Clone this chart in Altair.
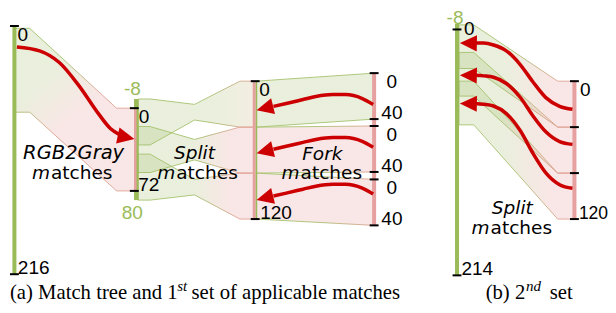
import math
import altair as alt
import pandas as pd

# ===================== values =====================
rgb_axis = [0, 216]                 # RGB2Gray match axis
split_axis = [-8, 80]               # Split axis (green extent)
split_hit = [0, 72]                 # matched part of the Split axis
fork_axis = [0, 120]                # Fork target axis
fork_segs = [[0, 40], [0, 40], [0, 40]]
b_left_axis = [-5, 214]             # panel (b) left axis
b_right_axis = [0, 120]             # panel (b) right axis
b_right_ticks = [0, 40, 80, 120]

rgb_band_src = [2, 75]
rgb_band_dst = [0, 72]
split_src = [[-8, 32], [16, 56], [40, 80]]
split_mid = [[-3.3, 10.3], [27.2, 45.0], [62.0, 75.5]]
split_dst = [[0, 40], [40, 80], [80, 120]]
fork_src = [[0, 40], [40, 80], [80, 120]]
fork_dst = [[0, 40], [0, 40], [0, 40]]
b_src = [[-4, 34], [20, 58], [45, 83]]
b_dst = [[0, 40], [40, 80], [80, 120]]

# arrows
arrow_rgb_x = [17, 40, 60, 80, 100, 112, 121]
arrow_rgb_y = [18.2, 21.6, 31.8, 52.1, 76.7, 89.4, 94.5]
fork_arrow_x = [378, 367, 350, 337, 320, 307, 290, 277]
fork_arrow_y = [[68.2, 63.1, 59.7, 59.7, 61.4, 64.0, 67.4, 69.9],
                [105.5, 100.4, 97.0, 97.0, 98.7, 101.3, 104.7, 107.2],
                [146.2, 141.1, 137.7, 137.7, 139.4, 142.0, 145.4, 147.9]]
b_arrow_x = [580, 567, 553, 540, 527, 513, 500, 490, 481]
b_arrow_y = [[72.5, 69.9, 62.3, 48.7, 33.5, 21.6, 16.5, 14.8, 14.8],
             [103.0, 100.6, 92.1, 78.3, 62.0, 50.0, 44.6, 43.4, 42.8],
             [141.1, 138.1, 127.8, 110.8, 90.9, 76.2, 69.6, 68.1, 67.4]]
head_x = [136, 260, 260, 260, 466, 466, 466]
head_y = [98.3, 73.3, 110.6, 151.3, 14.8, 42.8, 67.4]
head_angle = [12, 166, 166, 166, 181, 181, 181]

word_labels = ["RGB2Gray", "Split", "Fork", "Split"]
caption_a = ["(a) Match tree and 1", "st", "set of applicable matches"]
caption_b = ["(b) 2", "nd", "set"]

# ===================== layout / style =====================
K = 1.18
Y0 = 26.5
W, H = 600, 297
XD = [8, 616]
YD = [(8 - Y0) / K, (313 - Y0) / K]

X_RGB, X_SPLIT, X_FT, X_FS, X_BL, X_BR = 14.5, 138, 257.5, 379, 463, 582
OFF_RGB, OFF_SPLIT, OFF_FT, OFF_BL, OFF_BR = 0, 71.5, 48, 3, 48
OFF_FS = [41, 87, 133.5]

GREEN = "#9bbb59"
GFILL = "#9bb860"
PFILL = "#e48d8d"
PINKBAR = "#e6a0a0"
GSTROKE = "#a6c26f"
PSTROKE = "#e0a294"
RED = "#cc0000"


def ex(f="x"):
    return alt.X(f"{f}:Q", scale=alt.Scale(domain=XD, nice=False, zero=False), axis=None)


def ey(f="y"):
    return alt.Y(f"{f}:Q", scale=alt.Scale(domain=YD, nice=False, zero=False, reverse=True), axis=None)


def grad(stops, vec):
    x1, y1, x2, y2 = vec
    return alt.Gradient(gradient="linear",
                        stops=[alt.GradientStop(color=c, offset=o) for o, c in stops],
                        x1=x1, y1=y1, x2=x2, y2=y2)


def band(xs, tops, bots, fstops, sstops, vec=(0, 0, 1, 0)):
    df = pd.DataFrame({"x": xs, "y": tops, "y2": bots})
    return alt.Chart(df).mark_area(
        fill=grad(fstops, vec), stroke=grad(sstops, vec), fillOpacity=0.22,
        strokeWidth=1, strokeOpacity=0.9, orient="vertical", interpolate="linear"
    ).encode(x=ex(), y=ey(), y2=alt.Y2("y2:Q"))


layers = []

# ---- RGB2Gray ribbon ----
s, d = rgb_band_src, rgb_band_dst
layers.append(band([X_RGB, 30, 118, X_SPLIT - 0.5],
                   [OFF_RGB + s[0]] * 2 + [OFF_SPLIT + d[0]] * 2,
                   [OFF_RGB + s[1]] * 2 + [OFF_SPLIT + d[1]] * 2,
                   [(0, GFILL), (1, PFILL)], [(0, GSTROKE), (1, PSTROKE)],
                   (0.3, 0.25, 0.5, 0.55)))

# ---- Split ribbons ----
split_fill = [[(0, GFILL), (0.6, GFILL), (1, "#c9b27a")],
              [(0, GFILL), (0.45, GFILL), (0.8, PFILL), (1, PFILL)],
              [(0, GFILL), (0.45, GFILL), (0.8, PFILL), (1, PFILL)]]
split_stroke = [[(0, GSTROKE), (0.6, GSTROKE), (1, PSTROKE)],
                [(0, GSTROKE), (0.5, GSTROKE), (0.85, PSTROKE), (1, PSTROKE)],
                [(0, GSTROKE), (0.5, GSTROKE), (0.85, PSTROKE), (1, PSTROKE)]]
for i in range(3):
    src, mid, dst = split_src[i], split_mid[i], split_dst[i]
    layers.append(band([X_SPLIT + 2, 152, 197, 243, X_FT],
                       [OFF_SPLIT + src[0]] * 2 + [OFF_SPLIT + mid[0]] + [OFF_FT + dst[0]] * 2,
                       [OFF_SPLIT + src[1]] * 2 + [OFF_SPLIT + mid[1]] + [OFF_FT + dst[1]] * 2,
                       split_fill[i], split_stroke[i]))

# ---- Fork ribbons ----
fork_fill = [[(0, GFILL), (1, GFILL)], [(0, PFILL), (1, PFILL)], [(0, PFILL), (1, PFILL)]]
fork_stroke = [[(0, GSTROKE), (1, GSTROKE)],
               [(0, GSTROKE), (0.5, GSTROKE), (1, PSTROKE)],
               [(0, GSTROKE), (0.5, GSTROKE), (1, PSTROKE)]]
for i in range(3):
    src, dst = fork_src[i], fork_dst[i]
    layers.append(band([X_FT + 2, X_FS],
                       [OFF_FT + src[0], OFF_FS[i] + dst[0]],
                       [OFF_FT + src[1], OFF_FS[i] + dst[1]],
                       fork_fill[i], fork_stroke[i]))

# ---- panel (b) ribbons ----
for i in range(3):
    src, dst = b_src[i], b_dst[i]
    layers.append(band([X_BL + 2, 480, 565, X_BR],
                       [OFF_BL + src[0]] * 2 + [OFF_BR + dst[0]] * 2,
                       [OFF_BL + src[1]] * 2 + [OFF_BR + dst[1]] * 2,
                       [(0, GFILL), (0.35, GFILL), (0.8, PFILL), (1, PFILL)],
                       [(0, GSTROKE), (0.45, GSTROKE), (0.9, PSTROKE), (1, PSTROKE)]))

# ---- axes bars ----
bars = pd.DataFrame([
    dict(x=X_RGB, y=OFF_RGB + rgb_axis[0], y2=OFF_RGB + rgb_axis[1], w=4, c=GREEN),
    dict(x=X_SPLIT, y=OFF_SPLIT + split_axis[0], y2=OFF_SPLIT + split_axis[1], w=4.5, c=GREEN),
    dict(x=X_SPLIT - 1, y=OFF_SPLIT + split_hit[0], y2=OFF_SPLIT + split_hit[1], w=2.5, c=PINKBAR),
    dict(x=X_FT, y=OFF_FT + fork_axis[0], y2=OFF_FT + fork_axis[1], w=3, c=PINKBAR),
    dict(x=X_FT + 2.3, y=OFF_FT + fork_axis[0], y2=OFF_FT + fork_axis[1], w=1.5, c=GREEN),
    dict(x=X_FS, y=OFF_FS[0] + fork_segs[0][0], y2=OFF_FS[2] + fork_segs[2][1], w=4, c=PINKBAR),
    dict(x=X_BL, y=OFF_BL + b_left_axis[0], y2=OFF_BL + b_left_axis[1], w=4, c=GREEN),
    dict(x=X_BR, y=OFF_BR + b_right_axis[0], y2=OFF_BR + b_right_axis[1], w=4, c=PINKBAR),
])
layers.append(alt.Chart(bars).mark_rule().encode(
    x=ex(), y=ey(), y2=alt.Y2("y2:Q"),
    strokeWidth=alt.StrokeWidth("w:Q", scale=None), color=alt.Color("c:N", scale=None)))

# ---- ticks ----
tick_rows = []
def add_ticks(xc, off, vals):
    for v in vals:
        tick_rows.append(dict(x=xc - 4.5, x2=xc + 4.5, y=off + v))
add_ticks(X_RGB, OFF_RGB, rgb_axis)
add_ticks(X_SPLIT - 2, OFF_SPLIT, split_hit)
add_ticks(X_FT + 1, OFF_FT, fork_axis)
for i in range(3):
    add_ticks(X_FS, OFF_FS[i], fork_segs[i])
add_ticks(X_BL, OFF_BL, [0, b_left_axis[1]])
add_ticks(X_BR, OFF_BR, b_right_ticks)
layers.append(alt.Chart(pd.DataFrame(tick_rows)).mark_rule(color="black", strokeWidth=2).encode(
    x=ex(), x2=alt.X2("x2:Q"), y=ey()))

# ---- arrows ----
arr_rows = []
for xv, yv in zip(arrow_rgb_x, arrow_rgb_y):
    arr_rows.append(dict(id="a", x=xv, y=yv))
for i in range(3):
    for xv, yv in zip(fork_arrow_x, fork_arrow_y[i]):
        arr_rows.append(dict(id=f"f{i}", x=xv, y=yv))
    for xv, yv in zip(b_arrow_x, b_arrow_y[i]):
        arr_rows.append(dict(id=f"b{i}", x=xv, y=yv))
layers.append(alt.Chart(pd.DataFrame(arr_rows)).mark_line(
    color=RED, strokeWidth=3.5, interpolate="monotone").encode(
    x=ex(), y=ey(), detail="id:N"))

HEAD_LEN = 17
heads = pd.DataFrame({
    "x": [hx - HEAD_LEN / 2 * math.cos(math.radians(a)) for hx, a in zip(head_x, head_angle)],
    "y": [hy - HEAD_LEN / 2 * math.sin(math.radians(a)) / K for hy, a in zip(head_y, head_angle)],
    "a": head_angle,
})
layers.append(alt.Chart(heads).mark_point(
    shape="M1,0L-1,-0.95L-1,0.95Z", filled=True, size=HEAD_LEN ** 2, color=RED,
    opacity=1, strokeWidth=0).encode(x=ex(), y=ey(), angle=alt.Angle("a:Q", scale=None)))


# ---- texts ----
def text_layer(rows, align, baseline, font="Liberation Sans", size=19, style="normal", color="black"):
    df = pd.DataFrame(rows, columns=["t", "x", "y"])
    return alt.Chart(df).mark_text(
        align=align, baseline=baseline, font=font, fontSize=size, fontStyle=style, color=color
    ).encode(x=ex(), y=ey(), text="t:N")


layers.append(text_layer([
    ("0", X_RGB + 3, OFF_RGB + rgb_axis[0]),
    ("0", X_SPLIT + 2.5, OFF_SPLIT + split_hit[0]),
    ("0", X_FT + 5, OFF_FT + fork_axis[0]),
    ("0", X_BR + 5.5, OFF_BR + b_right_axis[0]),
], "left", "top"))
layers.append(text_layer([("0", 397, OFF_FS[i] + fork_segs[i][0]) for i in range(3)], "center", "top"))
layers.append(text_layer([("40", 397, OFF_FS[i] + fork_segs[i][1]) for i in range(3)], "center", "alphabetic"))
layers.append(text_layer([
    (str(rgb_axis[1]), X_RGB + 3.5, OFF_RGB + rgb_axis[1]),
    (str(split_hit[1]), X_SPLIT + 2, OFF_SPLIT + split_hit[1]),
    (str(fork_axis[1]), X_FT + 6, OFF_FT + fork_axis[1]),
    (str(b_left_axis[1]), X_BL + 4.5, OFF_BL + b_left_axis[1]),
], "left", "alphabetic"))
layers.append(text_layer([(str(b_right_axis[1]), X_BR + 4.5, OFF_BR + b_right_axis[1])],
                         "left", "alphabetic", size=17.5))
layers.append(text_layer([("0", X_BL + 7, OFF_BL + 0)], "left", "middle"))
layers.append(text_layer([
    ("-8", X_SPLIT - 4, OFF_SPLIT + split_axis[0] - 3.6),
    ("-8", X_BL - 2, OFF_BL + b_left_axis[0] - 0.1),
], "center", "alphabetic", color=GREEN))
layers.append(text_layer([("80", X_SPLIT - 4, OFF_SPLIT + split_axis[1] + 3.7)], "center", "top", color=GREEN))

word_x = [74.5, 197, 326.5, 519]
word_y = [115.5, 115.5, 116.5, 164]
word_size = [19.5, 18.5, 18.5, 18.5]
match_x = [73, 200, 326, 518.5]
match_y = [133.0, 133.0, 133.0, 181]
for wl, wx, wy, ws in zip(word_labels, word_x, word_y, word_size):
    layers.append(text_layer([(wl, wx, wy)], "center", "alphabetic",
                             font="DejaVu Sans", style="italic", size=ws))
layers.append(text_layer([("m", mx - 22.5, my) for mx, my in zip(match_x, match_y)], "right", "alphabetic",
                         font="DejaVu Sans", style="italic", size=18.5))
layers.append(text_layer([("atches", mx - 21.5, my) for mx, my in zip(match_x, match_y)], "left", "alphabetic",
                         font="DejaVu Sans", size=18.5))

CAP_Y, SUP_Y = 237.7, 230.9
layers.append(text_layer([(caption_a[0], 10, CAP_Y), (caption_a[2], 194, CAP_Y),
                          (caption_b[0], 492, CAP_Y), (caption_b[2], 557, CAP_Y)],
                         "left", "alphabetic", font="Liberation Serif", size=20.7))
layers.append(text_layer([(caption_a[1], 179.5, SUP_Y), (caption_b[1], 533, SUP_Y)],
                         "left", "alphabetic", font="Liberation Serif", size=15, style="italic"))

chart = alt.layer(*layers).properties(
    width=W, height=H, padding=0, autosize=alt.AutoSizeParams(type="none")
).configure_view(stroke=None)

chart.save("out.html", embed_options={"renderer": "svg", "actions": False})
